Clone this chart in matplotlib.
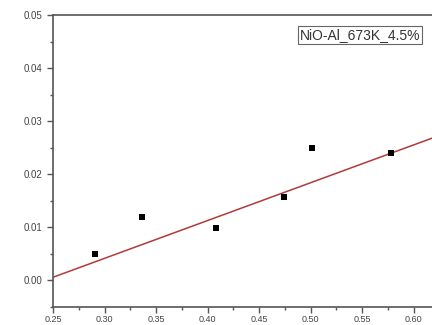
import matplotlib
matplotlib.use("Agg")
import matplotlib.pyplot as plt
import numpy as np
from matplotlib.ticker import MultipleLocator, FixedLocator

plt.rcParams["font.family"] = ["Liberation Sans", "DejaVu Sans"]

# Measured points
x_vals = [0.291, 0.336, 0.408, 0.474, 0.501, 0.578]
y_vals = [0.0049, 0.0119, 0.0098, 0.0158, 0.0249, 0.0240]

# Linear fit line parameters
fit_slope = 0.0712
fit_intercept = -0.0172

sample_label = "NiO-Al_673K_4.5%"
x_ticks = [0.25, 0.30, 0.35, 0.40, 0.45, 0.50, 0.55, 0.60]
y_ticks = [0.00, 0.01, 0.02, 0.03, 0.04, 0.05]

W, H = 432, 325
fig = plt.figure(figsize=(W / 100, H / 100), dpi=100)
ax = fig.add_axes([53 / W, 1 - 307 / H, (0.65 - 0.25) * 1030 / W, 292 / H])

ax.set_xlim(0.25, 0.65)
ax.set_ylim(-0.005, 0.05)

axis_col = "#555555"
for s in ax.spines.values():
    s.set_color(axis_col)
    s.set_linewidth(1.2)

ax.xaxis.set_major_locator(FixedLocator(x_ticks))
ax.yaxis.set_major_locator(FixedLocator(y_ticks))
ax.xaxis.set_minor_locator(MultipleLocator(0.025))
ax.yaxis.set_minor_locator(MultipleLocator(0.005))
ax.set_xticklabels([f"{t:.2f}" for t in x_ticks])
ax.set_yticklabels([f"{t:.2f}" for t in y_ticks])
ax.tick_params(which="major", direction="out", length=4, width=1, color=axis_col,
               labelsize=7, labelcolor="#444444", pad=4)
ax.tick_params(axis="x", which="major", pad=2, labelsize=6.5)
ax.tick_params(which="minor", direction="out", length=2.5, width=1, color=axis_col)

xl = np.array([0.25, 0.65])
ax.plot(xl, fit_intercept + fit_slope * xl, color="#b03a3a", lw=1.1, zorder=2)
ax.scatter(x_vals, y_vals, marker="s", s=15, color="black", zorder=3, linewidths=0)

fig.text(300 / W, 1 - 35 / H, sample_label, fontsize=10, color="#333333",
         ha="left", va="center",
         bbox=dict(boxstyle="square,pad=0.12", fc="white", ec="#666666", lw=0.8))

fig.savefig("out.png", dpi=100)
